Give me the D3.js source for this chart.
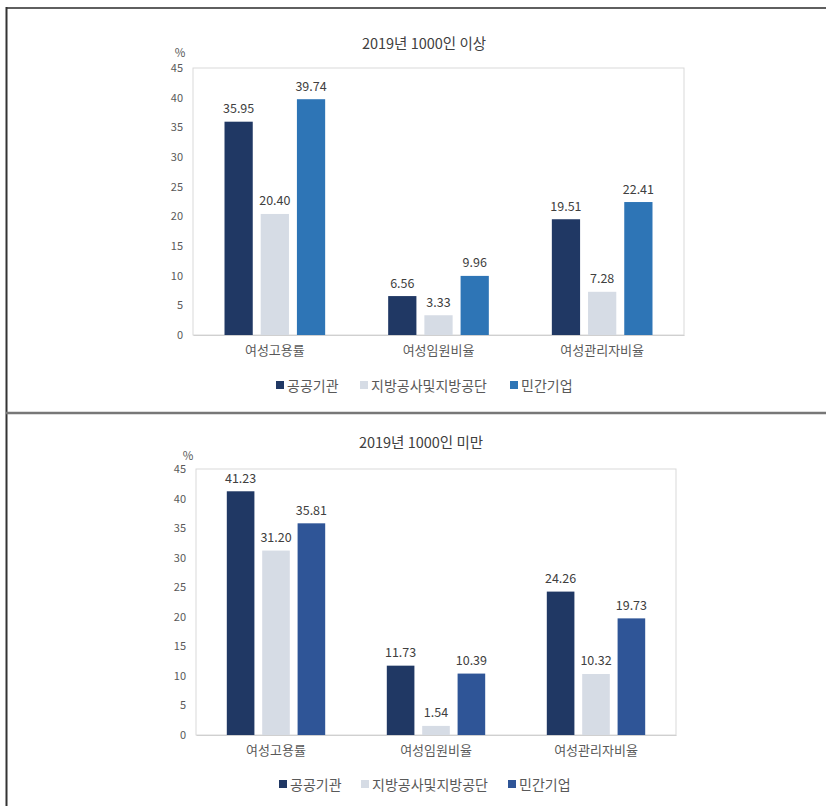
<!DOCTYPE html>
<html>
<head>
<meta charset="utf-8">
<script src="https://cdn.jsdelivr.net/npm/d3@7/dist/d3.min.js"></script>
<style>
  html, body { margin: 0; padding: 0; background: #ffffff; }
  svg { display: block; font-family: "Noto Sans CJK KR", "Noto Sans", sans-serif; }
</style>
</head>
<body>
<svg id="chart" width="827" height="806"></svg>
<script>
// Categories, series and tick labels
const categories = ["여성고용률", "여성임원비율", "여성관리자비율"];
const seriesNames = ["공공기관", "지방공사및지방공단", "민간기업"];
const yTicks = [0, 5, 10, 15, 20, 25, 30, 35, 40, 45];

// 1000인 이상
const largePublic = [35.95, 6.56, 19.51];
const largeLocal = [20.40, 3.33, 7.28];
const largePrivate = [39.74, 9.96, 22.41];

// 1000인 미만
const smallPublic = [41.23, 11.73, 24.26];
const smallLocal = [31.20, 1.54, 10.32];
const smallPrivate = [35.81, 10.39, 19.73];

const svg = d3.select("#chart");

// Page frame
svg.append("line").attr("x1", 6).attr("x2", 826).attr("y1", 8).attr("y2", 8)
  .attr("stroke", "#2a2a2a").attr("stroke-width", 1.5);
svg.append("line").attr("x1", 6.5).attr("x2", 6.5).attr("y1", 7).attr("y2", 806)
  .attr("stroke", "#333333").attr("stroke-width", 2);
svg.append("line").attr("x1", 6).attr("x2", 826).attr("y1", 413).attr("y2", 413)
  .attr("stroke", "#777777").attr("stroke-width", 2.5);

function drawChart(cfg) {
  const g = svg.append("g");
  const seriesValues = cfg.series;

  const y = d3.scaleLinear().domain([0, 45]).range([cfg.bottom, cfg.top]);
  const x = d3.scaleBand().domain(categories).range([cfg.left, cfg.right]).padding(0);
  const groupW = x.bandwidth() * 0.615;
  const xs = d3.scaleBand().domain(seriesNames).range([0, groupW]).paddingInner(0.22);

  // Title
  g.append("text")
    .attr("x", cfg.titleX).attr("y", cfg.titleY)
    .attr("text-anchor", "middle").attr("dominant-baseline", "central")
    .attr("font-size", 14.5).attr("fill", "#404040")
    .text(cfg.title);

  // Unit
  g.append("text")
    .attr("x", cfg.unitX).attr("y", cfg.unitY)
    .attr("text-anchor", "middle").attr("dominant-baseline", "central")
    .attr("font-size", 11.5).attr("fill", "#595959")
    .text("%");

  // Plot frame
  g.append("rect")
    .attr("x", cfg.left).attr("y", cfg.top)
    .attr("width", cfg.right - cfg.left).attr("height", cfg.bottom - cfg.top)
    .attr("fill", "none").attr("stroke", "#d9d9d9").attr("stroke-width", 1);

  // Y axis labels
  const yAxis = d3.axisLeft(y).tickValues(yTicks).tickSize(0).tickPadding(10);
  const ya = g.append("g").attr("transform", `translate(${cfg.left},0)`).call(yAxis);
  ya.select(".domain").remove();
  ya.selectAll("text").attr("font-size", 11).attr("fill", "#595959")
    .attr("font-family", "\"Noto Sans CJK KR\", sans-serif");

  // X axis labels
  const xAxis = d3.axisBottom(x).tickSize(0).tickPadding(cfg.catPad);
  const xa = g.append("g").attr("transform", `translate(0,${cfg.bottom})`).call(xAxis);
  xa.select(".domain").attr("stroke", "#d0d0d0");
  xa.selectAll("text").attr("font-size", 13).attr("fill", "#595959")
    .attr("font-family", "\"Noto Sans CJK KR\", sans-serif");

  // Bars and value labels
  seriesNames.forEach((s, si) => {
    const vals = seriesValues[si];
    const sg = g.append("g");
    sg.selectAll("rect").data(vals).join("rect")
      .attr("x", (d, i) => x(categories[i]) + (x.bandwidth() - groupW) / 2 + xs(s))
      .attr("y", d => y(d))
      .attr("width", xs.bandwidth())
      .attr("height", d => cfg.bottom - y(d))
      .attr("fill", cfg.colors[si]);
    sg.selectAll("text").data(vals).join("text")
      .attr("x", (d, i) => x(categories[i]) + (x.bandwidth() - groupW) / 2 + xs(s) + xs.bandwidth() / 2)
      .attr("y", d => y(d) - 14)
      .attr("text-anchor", "middle").attr("dominant-baseline", "central")
      .attr("font-size", 12.5).attr("fill", "#404040")
      .text(d => d.toFixed(2));
  });

  // Legend
  const lg = g.append("g");
  cfg.legendX.forEach((lx, i) => {
    lg.append("rect")
      .attr("x", lx).attr("y", cfg.legendY - 4)
      .attr("width", 8).attr("height", 8)
      .attr("fill", cfg.colors[i]);
    lg.append("text")
      .attr("x", lx + 11).attr("y", cfg.legendY)
      .attr("dominant-baseline", "central")
      .attr("font-size", 14).attr("fill", "#595959")
      .text(seriesNames[i]);
  });
}

drawChart({
  title: "2019년 1000인 이상",
  titleX: 424, titleY: 42,
  unitX: 180, unitY: 52,
  left: 193, right: 684, top: 68, bottom: 335,
  catPad: 11,
  legendY: 385,
  legendX: [276, 360, 510],
  colors: ["#203864", "#d6dce5", "#2e75b6"],
  series: [largePublic, largeLocal, largePrivate]
});

drawChart({
  title: "2019년 1000인 미만",
  titleX: 421, titleY: 441,
  unitX: 188, unitY: 455,
  left: 196, right: 676, top: 469, bottom: 735,
  catPad: 11,
  legendY: 784,
  legendX: [279, 361, 508],
  colors: ["#203864", "#d6dce5", "#2f5597"],
  series: [smallPublic, smallLocal, smallPrivate]
});
</script>
</body>
</html>
